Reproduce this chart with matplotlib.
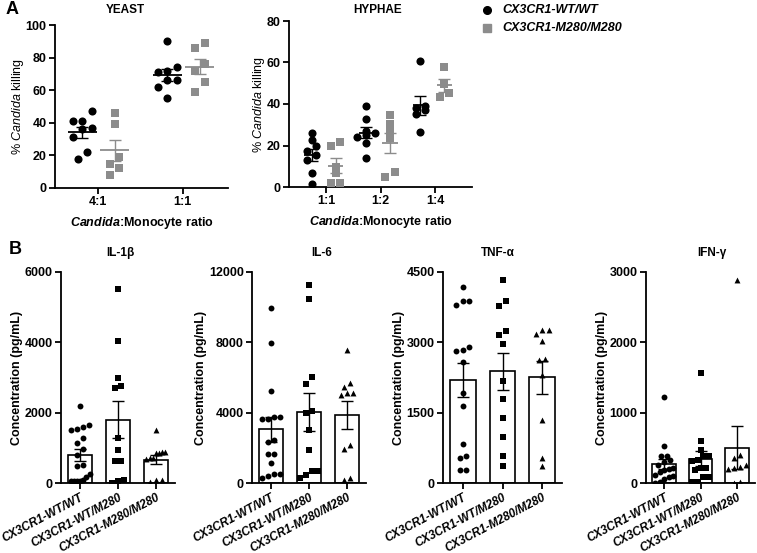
import matplotlib
matplotlib.use("Agg")
import matplotlib.pyplot as plt
import numpy as np

plt.rcParams['font.family'] = ['Liberation Sans', 'DejaVu Sans']
plt.rcParams['mathtext.fontset'] = 'custom'
plt.rcParams['mathtext.rm'] = 'Liberation Sans'
plt.rcParams['mathtext.it'] = 'Liberation Sans:italic'
plt.rcParams['mathtext.bf'] = 'Liberation Sans:bold'
plt.rcParams['mathtext.bfit'] = 'Liberation Sans:italic:bold'

# ---- panel A data (% Candida killing) ----
genotypes = ['CX3CR1-WT/WT', 'CX3CR1-M280/M280']
yeast_ratios = ['4:1', '1:1']
yeast_wt = [[47, 41, 41, 37, 36, 31, 22, 18],
            [90, 74, 72, 71, 66, 66, 62, 55]]
yeast_m280 = [[46, 39, 19, 15, 12, 8],
              [89, 86, 76, 72, 65, 59]]

hyphae_ratios = ['1:1', '1:2', '1:4']
hyphae_wt = [[26, 22.8, 19.6, 17.2, 15.3, 13.2, 6.7, 1.6],
             [39, 33, 27, 26, 25, 24, 21, 14],
             [60.5, 38.9, 38.1, 36.9, 35.0, 26.5]]
hyphae_m280 = [[21.7, 19.6, 9.6, 6.7, 1.9, 1.9],
               [34.5, 30.2, 26.8, 23.8, 7.2, 4.8],
               [57.8, 49.5, 45.3, 43.4]]

# ---- panel B data (pg/mL) ----
groups = ['CX3CR1-WT/WT', 'CX3CR1-WT/M280', 'CX3CR1-M280/M280']
cytokines = ['IL-1β', 'IL-6', 'TNF-α', 'IFN-γ']
il1b = [[2180, 1590, 1540, 1650, 1500, 1280, 1140, 980, 790, 500, 470, 250, 170, 80, 70, 60, 60, 50],
        [5510, 4040, 3000, 2760, 2710, 1290, 930, 630, 620, 80, 70, 0],
        [1500, 880, 870, 860, 850, 720, 700, 680, 90, 80, 40]]
il6 = [[9950, 7950, 5230, 3730, 3630, 3630, 3730, 2430, 2340, 1670, 1670, 1160, 490, 300, 380, 490],
       [11240, 10480, 6050, 5630, 4090, 3990, 3000, 1900, 690, 680, 480, 290],
       [7590, 5140, 5100, 5480, 5670, 5000, 2150, 1960, 190, 300]]
tnf = [[4170, 3890, 3800, 3890, 2890, 2820, 2840, 2590, 1910, 1640, 830, 570, 540, 270, 270],
       [4340, 3880, 3780, 3250, 3160, 2970, 2180, 1790, 1380, 990, 570, 360],
       [3270, 3180, 3260, 3020, 2640, 2630, 2310, 1340, 540, 360]]
ifng = [[1220, 520, 390, 390, 320, 300, 260, 220, 200, 180, 150, 120, 100, 80, 50, 20, 0],
        [1570, 600, 470, 390, 380, 330, 310, 210, 180, 210, 90, 80, 20, 20],
        [2880, 350, 400, 250, 230, 200, 220, 0, 10]]
cyto_data = [il1b, il6, tnf, ifng]
cyto_ymax = [6000, 12000, 4500, 3000]
cyto_ticks = [[0, 2000, 4000, 6000], [0, 4000, 8000, 12000],
              [0, 1500, 3000, 4500], [0, 1000, 2000, 3000]]

W, H = 757, 553
fig = plt.figure(figsize=(W / 100, H / 100), dpi=100)


def rect(l, r, top, bot):
    return [l / W, 1 - bot / H, (r - l) / W, (bot - top) / H]


def swarm(vals, center, step, tol, maxw):
    # simple column scatter: points close in value share a row
    vals = np.asarray(vals, float)
    order = np.argsort(vals)
    xs = np.full(len(vals), float(center))
    rows = [[order[0]]]
    for i in order[1:]:
        if vals[i] - vals[rows[-1][0]] > tol:
            rows.append([i])
        else:
            rows[-1].append(i)
    for grp in rows:
        n = len(grp)
        st = min(step, maxw / max(n - 1, 1))
        xs[grp] = center + (np.arange(n) - (n - 1) / 2) * st
    return xs


def style(ax):
    for s in ['top', 'right']:
        ax.spines[s].set_visible(False)
    for s in ['left', 'bottom']:
        ax.spines[s].set_linewidth(1.3)
    ax.tick_params(width=1.3, length=4, labelsize=9, pad=2)
    for t in ax.get_yticklabels() + ax.get_xticklabels():
        t.set_fontweight('bold')


def killing_panel(ax, ratios, wt, m280, offs, step, tol, mw, ymax):
    for i in range(len(ratios)):
        for vals, off, col, mk in [(wt[i], offs[0], 'black', 'o'),
                                   (m280[i], offs[1], '#8c8c8c', 's')]:
            xs = swarm(vals, i + off, step, tol, 0.34)
            ax.scatter(xs, vals, s=34, c=col, marker=mk, linewidths=0, zorder=3)
            m = np.mean(vals)
            sem = np.std(vals, ddof=1) / np.sqrt(len(vals))
            ax.hlines(m, i + off - mw, i + off + mw, color=col, lw=1.3, zorder=4)
            ax.errorbar(i + off, m, yerr=sem, color=col, lw=1.0, capsize=4,
                        capthick=1.0, fmt='none', zorder=4)
    ax.set_xticks(range(len(ratios)))
    ax.set_xticklabels(ratios)
    ax.set_ylim(0, ymax)
    ax.set_xlabel(r'$\mathbfit{Candida}$:Monocyte ratio', fontsize=9,
                  fontweight='bold', labelpad=5)
    ax.set_ylabel(r'% $\mathit{Candida}$ killing', fontsize=9, labelpad=0)
    style(ax)


ax1 = fig.add_axes(rect(55, 228, 25, 188))
killing_panel(ax1, yeast_ratios, yeast_wt, yeast_m280, (-0.18, 0.2), 0.11, 6, 0.17, 100)
ax1.set_xlim(-0.5, 1.53)
ax1.set_yticks(range(0, 101, 20))
style(ax1)

ax2 = fig.add_axes(rect(289, 472, 21, 187))
killing_panel(ax2, hyphae_ratios, hyphae_wt, hyphae_m280, (-0.27, 0.17), 0.17, 2.6, 0.14, 80)
ax2.set_xlim(-0.69, 2.68)
ax2.set_yticks(range(0, 81, 20))
style(ax2)

fig.text(12 / W, 1 - 9 / H, 'A', fontsize=13, fontweight='bold', va='center', ha='center')
fig.text(125 / W, 1 - 10 / H, 'YEAST', fontsize=8.5, fontweight='bold', va='center', ha='center')
fig.text(378 / W, 1 - 10 / H, 'HYPHAE', fontsize=8.5, fontweight='bold', va='center', ha='center')

# legend
fig.lines.append(plt.Line2D([487 / W], [1 - 10 / H], marker='o', ms=5.5, color='black',
                            transform=fig.transFigure, ls='none'))
fig.lines.append(plt.Line2D([487 / W], [1 - 28 / H], marker='s', ms=5.5, color='#8c8c8c',
                            transform=fig.transFigure, ls='none'))
fig.text(502 / W, 1 - 10 / H, genotypes[0], fontsize=9, fontweight='bold', style='italic', va='center')
fig.text(502 / W, 1 - 28 / H, genotypes[1], fontsize=9, fontweight='bold', style='italic', va='center')

# ---- panel B ----
b_lefts = [(61, 175), (252, 366), (443, 562), (646, 755)]
title_x = [120, 322, 498, 712]
markers = ['o', 's', '^']
fig.text(15 / W, 1 - 250 / H, 'B', fontsize=13, fontweight='bold', va='center', ha='center')
for k, (l, r) in enumerate(b_lefts):
    ax = fig.add_axes(rect(l, r, 272, 483))
    ymax = cyto_ymax[k]
    for j, vals in enumerate(cyto_data[k]):
        m = np.mean(vals)
        sem = np.std(vals, ddof=1) / np.sqrt(len(vals))
        ax.bar(j, m, width=0.65, color='white', edgecolor='black', lw=1.2, zorder=1)
        ax.errorbar(j, m, yerr=sem, color='black', lw=1.0, capsize=4, capthick=1.0,
                    fmt='none', zorder=2)
        xs = swarm(vals, j, 0.16, ymax * 0.035, 0.5)
        ax.scatter(xs, vals, s=18, c='black', marker=markers[j], linewidths=0, zorder=3)
    ax.set_xlim(-0.5, 2.5)
    ax.set_ylim(0, ymax)
    ax.set_yticks(cyto_ticks[k])
    ax.set_xticks(range(3))
    ax.set_xticklabels(groups, rotation=28, ha='right', rotation_mode='anchor',
                       style='italic', fontsize=8)
    ax.set_ylabel('Concentration (pg/mL)', fontsize=9, fontweight='bold', labelpad=1)
    style(ax)
    ax.tick_params(axis='x', labelsize=8.5)
    for t in ax.get_xticklabels():
        t.set_fontstyle('italic')
    fig.text(title_x[k] / W, 1 - 253 / H, cytokines[k], fontsize=8.5, fontweight='bold',
             va='center', ha='center')

fig.savefig('out.png', dpi=100)
